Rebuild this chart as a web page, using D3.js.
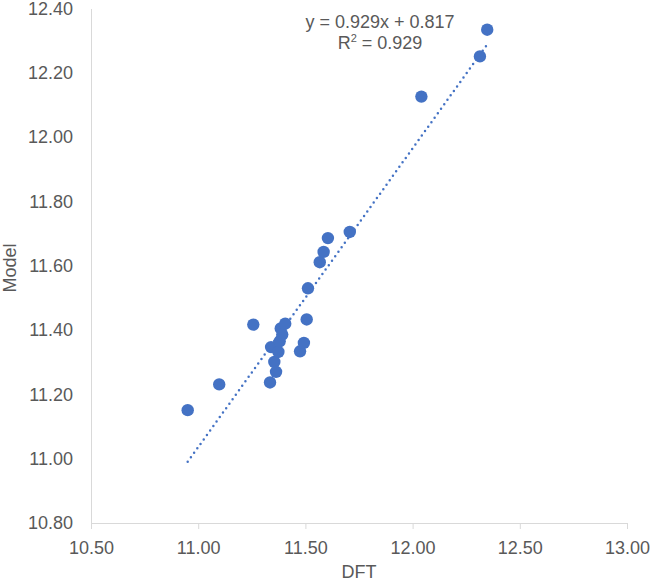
<!DOCTYPE html>
<html>
<head>
<meta charset="utf-8">
<script src="https://cdn.jsdelivr.net/npm/d3@7"></script>
<style>
  body { margin: 0; background: #fff; }
  text { font-family: "Liberation Sans", Arial, sans-serif; fill: #595959; }
</style>
</head>
<body>
<svg id="chart" width="650" height="585"></svg>
<script>
// data
const dft   = [10.951, 11.098, 11.257, 11.335, 11.340, 11.355, 11.363, 11.374, 11.380, 11.385, 11.392, 11.406,
               11.475, 11.493, 11.506, 11.512, 11.567, 11.585, 11.605, 11.707, 12.041, 12.314, 12.348]
const model = [11.151, 11.231, 11.417, 11.237, 11.347, 11.301, 11.270, 11.332, 11.365, 11.405, 11.386, 11.420,
               11.334, 11.360, 11.433, 11.530, 11.611, 11.643, 11.686, 11.705, 12.126, 12.251, 12.334]
const xTicks = [10.5, 11.0, 11.5, 12.0, 12.5, 13.0]
const yTicks = [10.8, 11.0, 11.2, 11.4, 11.6, 11.8, 12.0, 12.2, 12.4]
const slope = 0.929
const intercept = 0.817
const eqLabels = ["y = 0.929x + 0.817", "R² = 0.929"]

const svg = d3.select("#chart")

const x = d3.scaleLinear().domain([10.5, 13.0]).range([91, 627])
const y = d3.scaleLinear().domain([10.8, 12.4]).range([523, 8.5])

// x axis
const xAxis = svg.append("g")
  .attr("transform", "translate(0," + y(10.8) + ")")
  .call(d3.axisBottom(x).tickValues(xTicks).tickFormat(d3.format(".2f")).tickSize(6).tickSizeOuter(0).tickPadding(12))
xAxis.select(".domain").attr("stroke", "#d9d9d9")
xAxis.selectAll(".tick line").attr("stroke", "#d9d9d9")
xAxis.selectAll("text").style("font-size", "18px").attr("fill", "#595959")

// y axis
const yAxis = svg.append("g")
  .attr("transform", "translate(" + x(10.5) + ",0)")
  .call(d3.axisLeft(y).tickValues(yTicks).tickFormat(d3.format(".2f")).tickSize(0).tickPadding(18))
yAxis.select(".domain").attr("stroke", "#d9d9d9")
yAxis.selectAll("text").style("font-size", "18px").attr("fill", "#595959")

// trend line
const xMin = d3.min(dft), xMax = d3.max(dft)
svg.append("line")
  .attr("x1", x(xMin)).attr("y1", y(slope * xMin + intercept))
  .attr("x2", x(xMax)).attr("y2", y(slope * xMax + intercept))
  .attr("stroke", "#4472c4")
  .attr("stroke-width", 2.5)
  .attr("stroke-linecap", "round")
  .attr("stroke-dasharray", "0 5.5")

// points
svg.append("g")
  .selectAll("circle")
  .data(dft)
  .join("circle")
    .attr("cx", d => x(d))
    .attr("cy", (d, i) => y(model[i]))
    .attr("r", 6.2)
    .attr("fill", "#4472c4")

// equation
svg.append("text")
  .attr("x", 380).attr("y", 28)
  .attr("text-anchor", "middle")
  .style("font-size", "18px")
  .text(eqLabels[0])
const r2 = svg.append("text")
  .attr("x", 380).attr("y", 49)
  .attr("text-anchor", "middle")
  .style("font-size", "18px")
r2.append("tspan").text("R")
r2.append("tspan").attr("dy", -7).style("font-size", "11px").text("2")
r2.append("tspan").attr("dy", 7).text(" = 0.929")

// axis titles
svg.append("text")
  .attr("x", 359).attr("y", 578)
  .attr("text-anchor", "middle")
  .style("font-size", "18px")
  .text("DFT")
svg.append("text")
  .attr("transform", "translate(16,268) rotate(-90)")
  .attr("text-anchor", "middle")
  .style("font-size", "18px")
  .text("Model")
</script>
</body>
</html>
